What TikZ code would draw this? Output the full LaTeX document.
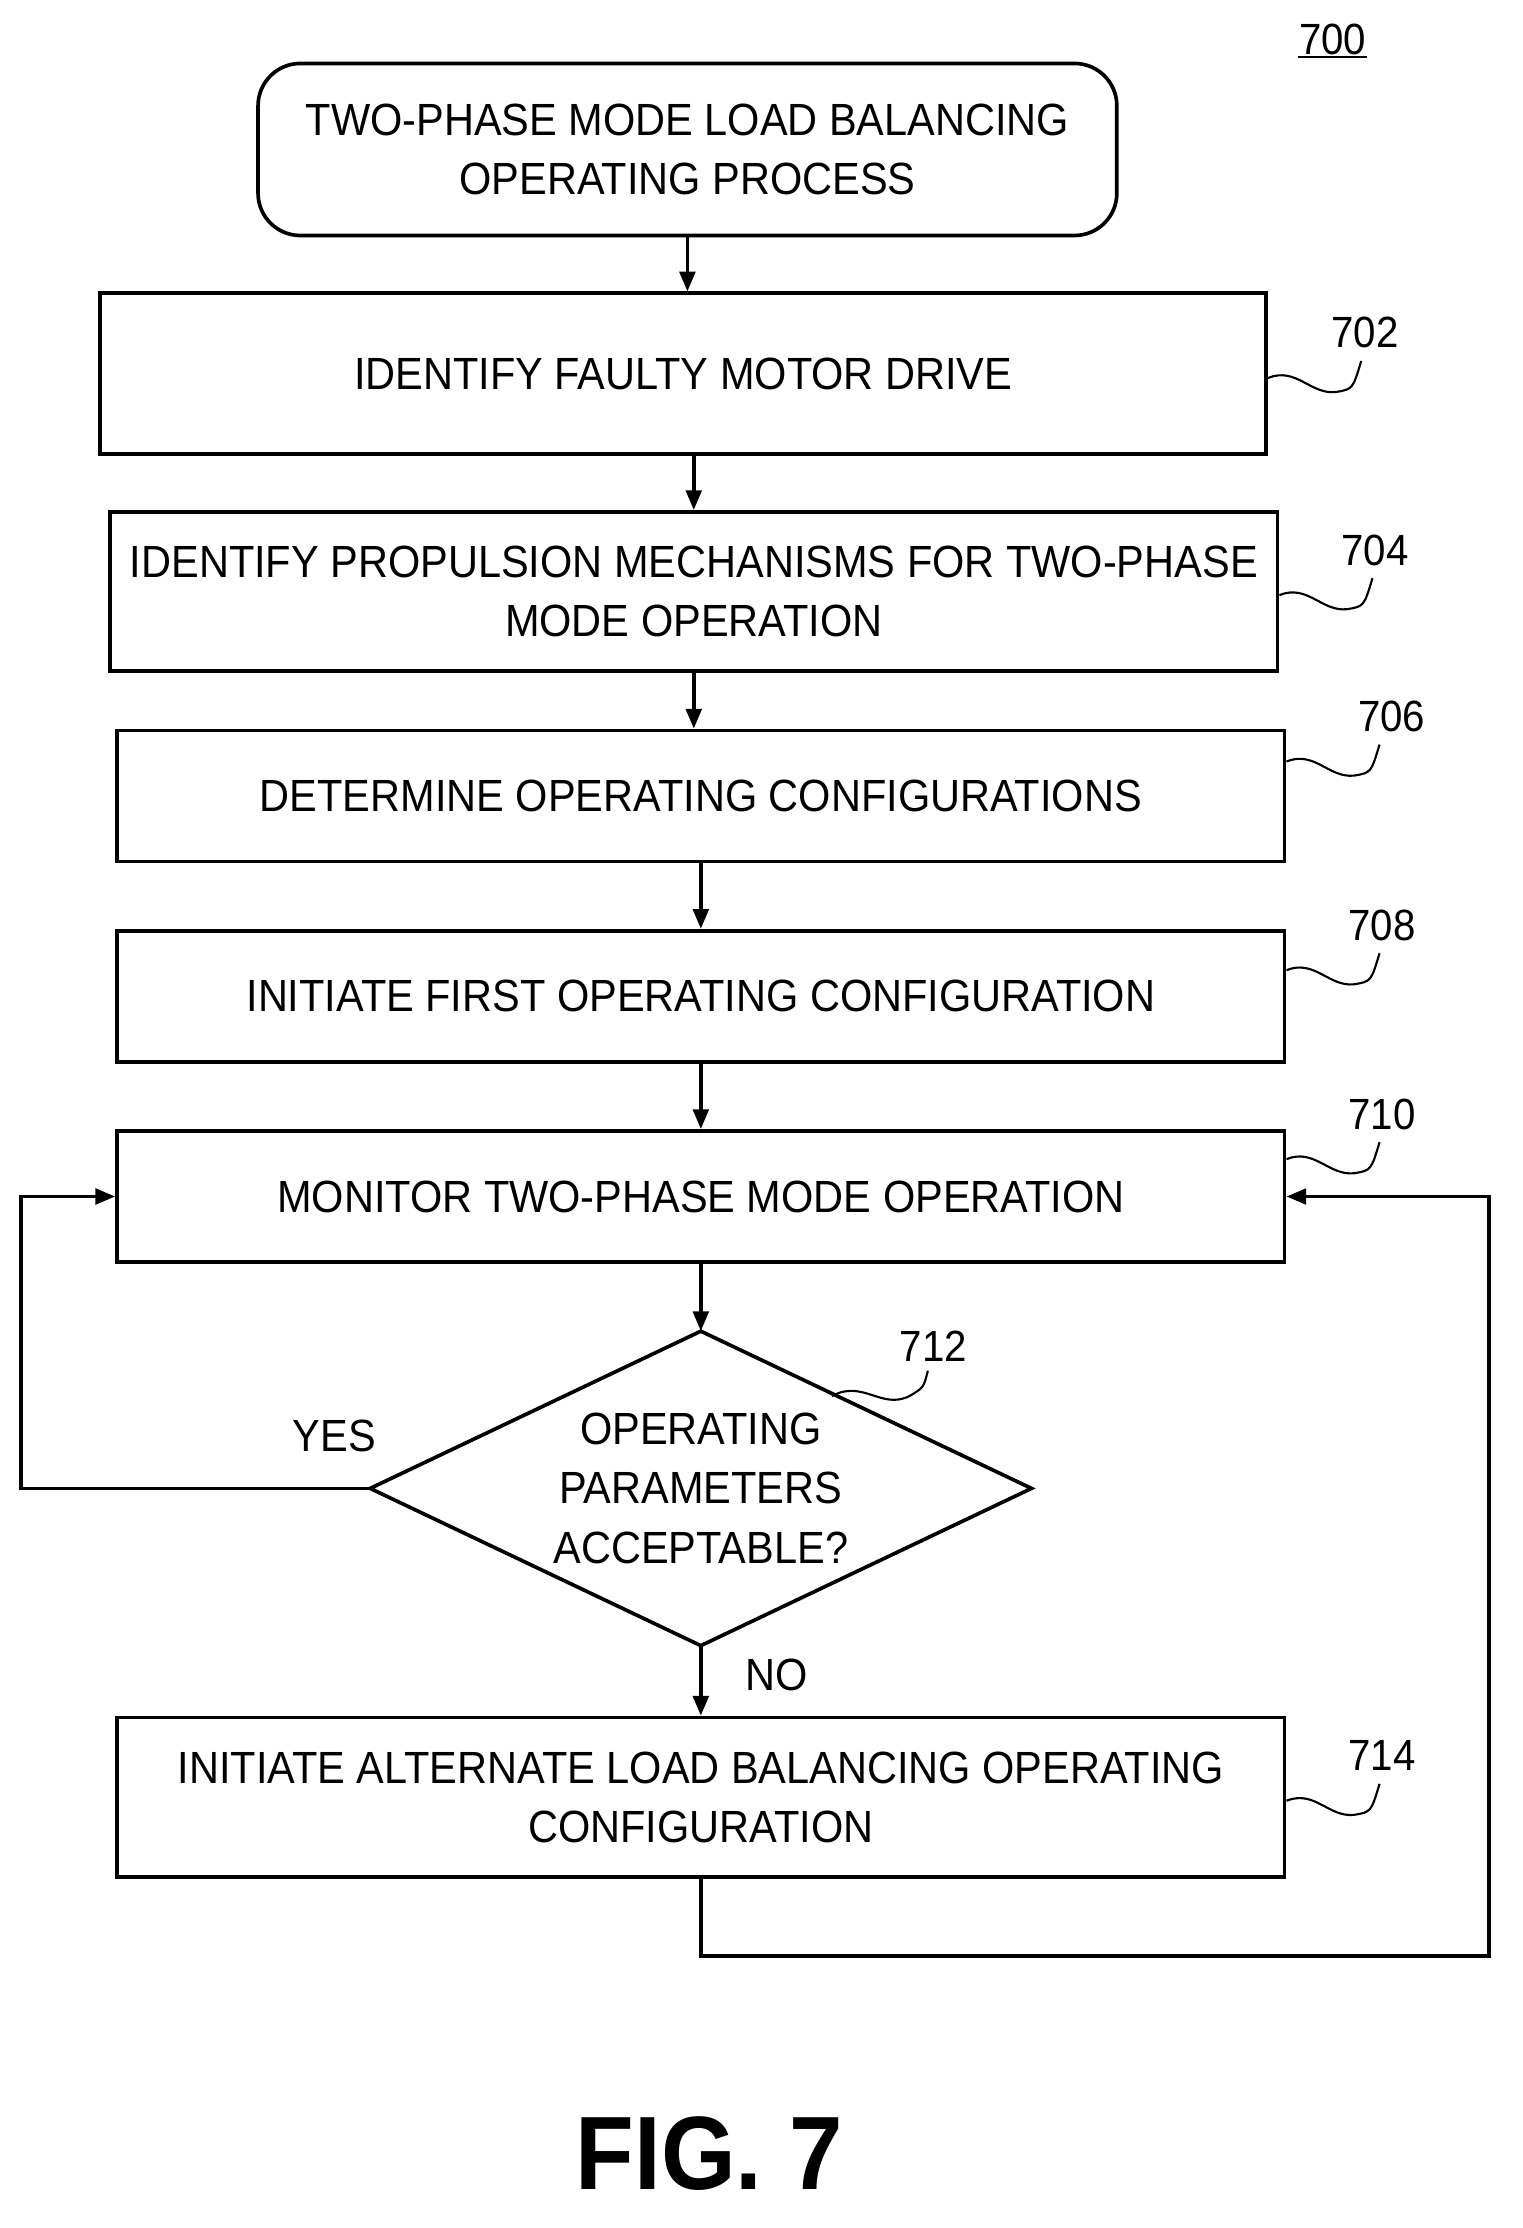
\documentclass[tikz,border=0pt]{standalone}
\usepackage{fontspec}
\setmainfont[FakeStretch=0.92]{Liberation Sans}
\usetikzlibrary{shapes.geometric,arrows.meta,calc}

\begin{document}
\begin{tikzpicture}[x=1pt,y=-1pt,line width=2.6pt,>={Triangle[length=14pt,width=11pt]},
  every node/.style={font=\fontsize{32}{42}\selectfont},
  block/.style={draw,rectangle,minimum width=828pt,minimum height=93pt,align=center,inner sep=0pt},
  start/.style={draw,rounded corners=30pt,minimum width=609pt,minimum height=122pt,align=center},
  decide/.style={draw,diamond,aspect=2.1,minimum width=469pt,minimum height=223pt,inner sep=0pt,outer sep=0pt,align=center},
  tag/.style={font=\fontsize{31}{32}\selectfont}]
\useasboundingbox (0,0) rectangle (1080,1580);
% nodes
\node[start] (begin) at (487.5,106) {TWO-PHASE MODE LOAD BALANCING\\OPERATING PROCESS};
\node[block,minimum width=827pt,minimum height=114pt] (identify) at (484.5,265) {IDENTIFY FAULTY MOTOR DRIVE};
\node[block,minimum height=113pt] (propulsion) at (492,419.5) {IDENTIFY PROPULSION MECHANISMS FOR TWO-PHASE\\MODE OPERATION};
\node[block] (determine) at (497,564.5) {DETERMINE OPERATING CONFIGURATIONS};
\node[block] (first) at (497,706.5) {INITIATE FIRST OPERATING CONFIGURATION};
\node[block] (monitor) at (497,848.5) {MONITOR TWO-PHASE MODE OPERATION};
\node[decide] (check) at (497,1055.5) {OPERATING\\PARAMETERS\\ACCEPTABLE?};
\node[block,minimum height=113pt] (alternate) at (497,1274.5) {INITIATE ALTERNATE LOAD BALANCING OPERATING\\CONFIGURATION};
% reference numerals
\node[tag] (n700) at (945,28) {700};
\draw[line width=1.5pt] ($(n700.south west)+(4,-3)$) -- ($(n700.south east)+(-4,-3)$);
\node[tag] (n702) at (968,236) {702};
\node[tag] (n704) at (975,390) {704};
\node[tag] (n706) at (987,508) {706};
\node[tag] (n708) at (980,656) {708};
\node[tag] (n710) at (980,790) {710};
\node[tag] (n712) at (662,955) {712};
\node[tag] (n714) at (980,1245) {714};
\foreach \b/\n in {identify/n702,propulsion/n704,determine/n706,first/n708,monitor/n710,alternate/n714}
  \draw[line width=1.5pt] ($(\b.east |- \n.center)+(0,32)$) .. controls +(20,-8) and +(-18,2) .. ++(48,10) .. controls +(12,-2) .. ++(18,-22);
\draw[line width=1.5pt] (590,990) .. controls (612,978) and (625,1000) .. (645,990) .. controls (655,984) .. (658,972);
% connectors
\draw[->] (begin.south) -- (begin.south |- identify.north);
\draw[->] (identify.south -| propulsion) -- (propulsion.north);
\draw[->] (propulsion.south) -- (propulsion.south |- determine.north);
\draw[->] (determine.south) -- (first.north);
\draw[->] (first.south) -- (monitor.north);
\draw[->] (monitor.south) -- (check.north);
\draw[->] (check.south) -- (alternate.north);
\draw[->] (check.west) -- (15,1055.5) |- (monitor.west);
\draw[->] (alternate.south) -- (497,1387) -- (1056,1387) |- (monitor.east);
\node (yes) at (237,1018) {YES};
\node (no) at (551,1188) {NO};
\node[font=\bfseries\fontsize{74}{80}\selectfont] (fig) at (503,1527) {FIG. 7};
\end{tikzpicture}
\end{document}
